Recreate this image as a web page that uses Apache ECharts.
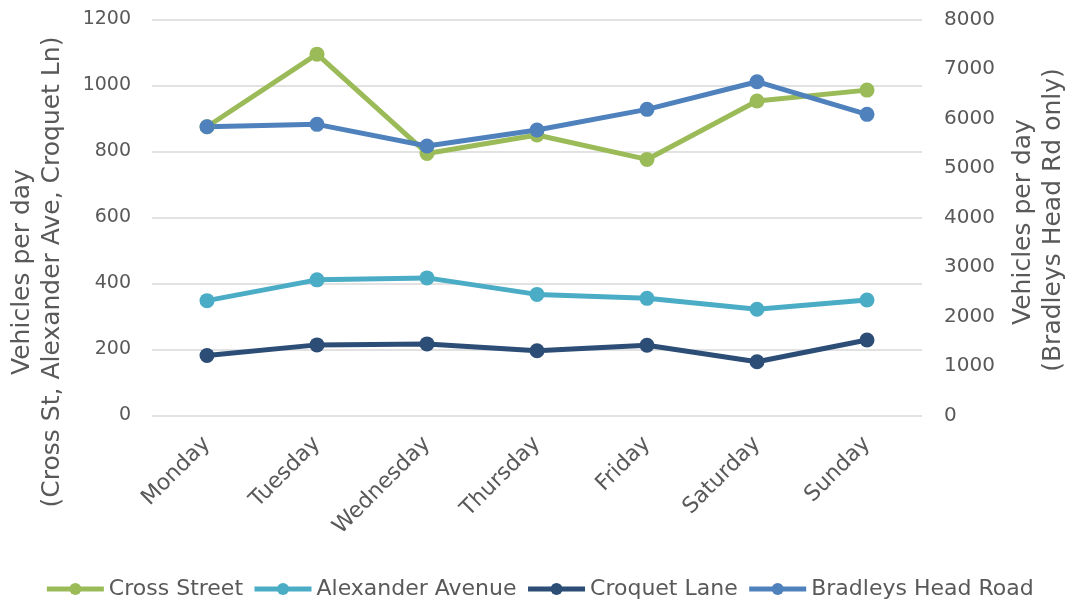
<!DOCTYPE html>
<html>
<head>
<meta charset="utf-8">
<script src="https://cdn.jsdelivr.net/npm/echarts@6/dist/echarts.min.js"></script>
<style>
  html, body { margin: 0; padding: 0; background: #fff; }
  #chart { width: 1078px; height: 606px; }
</style>
</head>
<body>
<div id="chart"></div>
<script>
// Daily traffic counts by street
const days = ['Monday', 'Tuesday', 'Wednesday', 'Thursday', 'Friday', 'Saturday', 'Sunday'];
const crossStreet = [875, 1095, 794, 850, 776, 953, 986];
const alexanderAvenue = [348, 411, 417, 367, 355, 322, 350];
const croquetLane = [182, 214, 217, 196, 213, 163, 229];
const bradleysHeadRoad = [5834, 5882, 5444, 5767, 6185, 6743, 6084];

const leftTicks = { min: 0, max: 1200, step: 200 };
const rightTicks = { min: 0, max: 8000, step: 1000 };

const FONT = '"DejaVu Sans", sans-serif';
const TEXT = '#595959';
const COLORS = {
  cross: '#9bbb59',
  alexander: '#4bacc6',
  croquet: '#2c4d75',
  bradleys: '#4f81bd'
};

const chart = echarts.init(document.getElementById('chart'), null, { renderer: 'canvas' });

function lineSeries(name, data, color, yAxisIndex) {
  return {
    name: name,
    type: 'line',
    yAxisIndex: yAxisIndex,
    data: data,
    symbol: 'circle',
    symbolSize: 15,
    lineStyle: { color: color, width: 5 },
    itemStyle: { color: color },
    emphasis: { disabled: true }
  };
}

function legendItem(name, color) {
  return {
    name: name,
    itemStyle: { color: color },
    lineStyle: { color: color, width: 5 }
  };
}

const plainNumber = v => String(v);

chart.setOption({
  animation: false,
  grid: { left: 152, right: 156, top: 19.5, bottom: 190.5 },
  legend: {
    bottom: 1,
    left: 'center',
    itemWidth: 57,
    itemHeight: 15,
    itemGap: 9,
    textStyle: { fontFamily: FONT, fontSize: 22, color: TEXT },
    data: [
      legendItem('Cross Street', COLORS.cross),
      legendItem('Alexander Avenue', COLORS.alexander),
      legendItem('Croquet Lane', COLORS.croquet),
      legendItem('Bradleys Head Road', COLORS.bradleys)
    ]
  },
  xAxis: {
    type: 'category',
    data: days,
    boundaryGap: true,
    axisLine: { show: false },
    axisTick: { show: false },
    axisLabel: {
      rotate: 45,
      margin: 25,
      interval: 0,
      fontFamily: FONT,
      fontSize: 22,
      color: TEXT
    }
  },
  yAxis: [
    {
      type: 'value',
      min: leftTicks.min,
      max: leftTicks.max,
      interval: leftTicks.step,
      axisLine: { show: false },
      axisTick: { show: false },
      splitLine: { lineStyle: { color: '#d9d9d9', width: 1.5 } },
      axisLabel: { margin: 21, fontFamily: FONT, fontSize: 19, color: TEXT, formatter: plainNumber }
    },
    {
      type: 'value',
      position: 'right',
      min: rightTicks.min,
      max: rightTicks.max,
      interval: rightTicks.step,
      axisLine: { show: false },
      axisTick: { show: false },
      splitLine: { show: false },
      axisLabel: { margin: 22, fontFamily: FONT, fontSize: 20, color: TEXT, formatter: plainNumber }
    }
  ],
  graphic: [
    {
      type: 'text', x: 22, y: 272, rotation: Math.PI / 2,
      style: { text: 'Vehicles per day', fill: TEXT, font: '25px ' + FONT, align: 'center', verticalAlign: 'middle' }
    },
    {
      type: 'text', x: 52, y: 272, rotation: Math.PI / 2,
      style: { text: '(Cross St, Alexander Ave, Croquet Ln)', fill: TEXT, font: '25px ' + FONT, align: 'center', verticalAlign: 'middle' }
    },
    {
      type: 'text', x: 1023, y: 222, rotation: Math.PI / 2,
      style: { text: 'Vehicles per day', fill: TEXT, font: '25px ' + FONT, align: 'center', verticalAlign: 'middle' }
    },
    {
      type: 'text', x: 1053, y: 220, rotation: Math.PI / 2,
      style: { text: '(Bradleys Head Rd only)', fill: TEXT, font: '25px ' + FONT, align: 'center', verticalAlign: 'middle' }
    }
  ],
  series: [
    lineSeries('Cross Street', crossStreet, COLORS.cross, 0),
    lineSeries('Alexander Avenue', alexanderAvenue, COLORS.alexander, 0),
    lineSeries('Croquet Lane', croquetLane, COLORS.croquet, 0),
    lineSeries('Bradleys Head Road', bradleysHeadRoad, COLORS.bradleys, 1)
  ]
});
</script>
</body>
</html>
